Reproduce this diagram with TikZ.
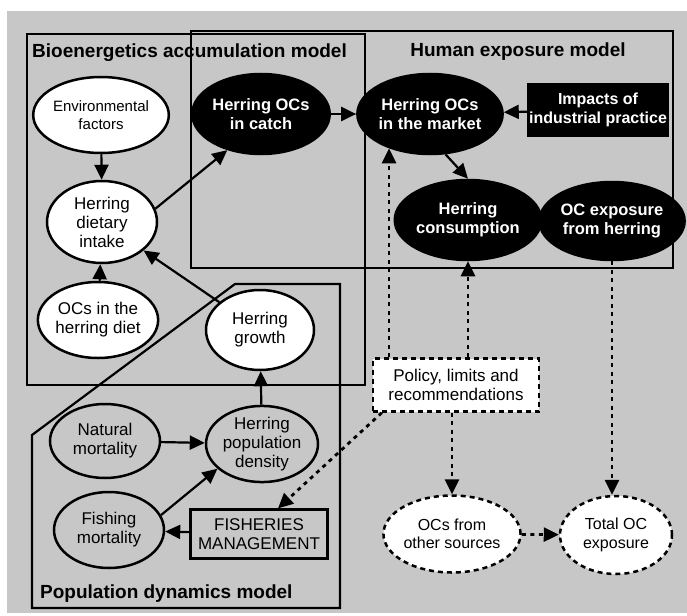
\documentclass[tikz,border=0pt]{standalone}
\usepackage{fontspec}
\setmainfont{Liberation Sans}
\usetikzlibrary{shapes.geometric,arrows.meta}
\definecolor{bg}{RGB}{199,199,199}
\begin{document}
\begin{tikzpicture}[x=1pt,y=-1pt,
  ell/.style={ellipse, draw, line width=2.5pt, inner sep=0pt, align=center,
    font=\fontsize{17}{19}\selectfont},
  wht/.style={ell, fill=white},
  blk/.style={ell, fill=black, text=white, font=\bfseries\fontsize{16.5}{19}\selectfont},
  gry/.style={ell, fill=bg},
  dsh/.style={ell, fill=white, dash pattern=on 5pt off 4pt, font=\fontsize{16}{18.5}\selectfont},
  ttl/.style={font=\bfseries\fontsize{19}{21}\selectfont, inner sep=0pt},
  frame/.style={draw, line width=2.2pt},
  arr/.style={line width=2.2pt, -{Triangle[length=15pt,width=14pt]}},
  dot/.style={line width=2.8pt, dash pattern=on 4pt off 4.5pt, -{Triangle[length=15pt,width=14pt]}}
]
\useasboundingbox (0,0) rectangle (687,615);
\fill[bg] (7,11) rectangle (687,613);

% model frames
\draw[frame] (27,34) rectangle (365,385);
\draw[frame] (191,31) rectangle (673,268);
\draw[frame] (32,435) -- (235,284) -- (340,284) -- (340,608) -- (32,608) -- cycle;

% titles
\node[ttl, anchor=base west] (tbio) at (32,58) {Bioenergetics accumulation model};
\node[ttl, anchor=base] (thum) at (518,57) {Human exposure model};
\node[ttl, anchor=base west] (tpop) at (40,598) {Population dynamics model};

% nodes
\node[wht, minimum width=106pt, minimum height=76pt, font=\fontsize{15}{17.5}\selectfont] (env) at (101,115) {Environmental\\factors};
\node[wht, minimum width=110pt, minimum height=82pt] (diet) at (102,222) {Herring\\dietary\\intake};
\node[wht, minimum width=108pt, minimum height=76pt] (ocdiet) at (98,320) {OCs in the\\herring diet};
\node[wht, minimum width=108pt, minimum height=80pt] (growth) at (260,330) {Herring\\growth};

\node[blk, minimum width=114pt, minimum height=80pt] (catch) at (261,114) {Herring OCs\\in catch};
\node[blk, minimum width=114pt, minimum height=80pt] (market) at (430,114) {Herring OCs\\in the market};
\node[rectangle, fill=black, text=white, align=center, inner sep=0pt,
      minimum width=142pt, minimum height=54pt,
      font=\bfseries\fontsize{16}{19}\selectfont] (impacts) at (598,110) {Impacts of\\industrial practice};
\node[blk, minimum width=112pt, minimum height=80pt] (cons) at (468,220) {Herring\\consumption};
\node[blk, minimum width=112pt, minimum height=78pt] (expo) at (612,221) {OC exposure\\from herring};

\node[gry, minimum width=110pt, minimum height=74pt] (nat) at (105,441) {Natural\\mortality};
\node[gry, minimum width=112pt, minimum height=76pt] (dens) at (262,444) {Herring\\population\\density};
\node[gry, minimum width=110pt, minimum height=76pt] (fish) at (109,530) {Fishing\\mortality};
\node[rectangle, draw, line width=2.2pt, fill=bg, align=center, inner sep=0pt,
      minimum width=137pt, minimum height=49pt,
      font=\fontsize{17}{19}\selectfont] (fm) at (259,534) {FISHERIES\\MANAGEMENT};

\node[rectangle, draw, fill=white, line width=2.4pt, dash pattern=on 5pt off 4pt,
      align=center, inner sep=0pt, minimum width=166pt, minimum height=53pt,
      font=\fontsize{17}{19}\selectfont] (policy) at (456,385) {Policy, limits and\\recommendations};
\node[dsh, minimum width=110pt, minimum height=77pt] (other) at (452,534) {OCs from\\other sources};
\node[dsh, minimum width=112pt, minimum height=78pt] (total) at (616,535) {Total OC\\exposure};

% solid connectors
\draw[arr] (env) -- (diet);
\draw[arr] (ocdiet) -- (diet);
\draw[arr] (growth) -- (diet);
\draw[arr] (diet.14) -- (catch.227);
\draw[arr] (catch) -- (market);
\draw[arr] (impacts) -- (market);
\draw[arr] (market.-69) -- (cons.north);
\draw[arr] (cons) -- (expo);
\draw[arr] (dens) -- (growth);
\draw[arr] (nat) -- (dens);
\draw[arr] (fish.16) -- (dens.209);
\draw[arr] (fm) -- (fish);

% dotted connectors
\draw[dot] (policy.north -| market.220) -- (market.220);
\draw[dot] (policy.north -| cons.south) -- (cons.south);
\draw[dot] ([xshift=10pt]policy.south west) -- ([xshift=19pt]fm.north);
\draw[dot] (policy.south -| other.north) -- (other.north);
\draw[dot] (expo.south) -- (expo.south |- total.north);
\draw[dot] (other) -- (total);
\end{tikzpicture}
\end{document}
